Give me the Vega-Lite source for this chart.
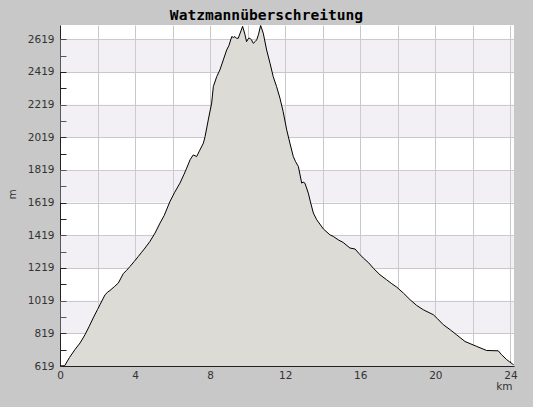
{
  "$schema": "https://vega.github.io/schema/vega-lite/v6.json",
  "width": 454,
  "height": 341,
  "autosize": {"type": "none"},
  "padding": {"left": 60, "top": 25, "right": 19, "bottom": 41},
  "background": "#c8c8c8",
  "view": {"fill": "white", "stroke": null},
  "config": {"axis": {"labelOverlap": false, "labelFlush": false}},
  "title": {
    "text": "Watzmannüberschreitung",
    "font": "DejaVu Sans Mono",
    "fontSize": 14.6,
    "fontWeight": "bold",
    "color": "#000000",
    "anchor": "middle",
    "dx": -20.5,
    "dy": 14,
    "baseline": "alphabetic",
    "offset": 4
  },
  "datasets": {
    "bands": [
      {"lo": 819, "hi": 1019},
      {"lo": 1219, "hi": 1419},
      {"lo": 1619, "hi": 1819},
      {"lo": 2019, "hi": 2219},
      {"lo": 2419, "hi": 2619}
    ],
    "profile": [
      {"km": 0, "elev": 619}, {"km": 0.25, "elev": 621}, {"km": 0.5, "elev": 670}, {"km": 0.8, "elev": 720},
      {"km": 1.07, "elev": 760}, {"km": 1.33, "elev": 810}, {"km": 1.55, "elev": 860}, {"km": 1.77, "elev": 913},
      {"km": 2.0, "elev": 965}, {"km": 2.13, "elev": 994}, {"km": 2.4, "elev": 1055}, {"km": 2.55, "elev": 1072},
      {"km": 2.66, "elev": 1081}, {"km": 2.9, "elev": 1105}, {"km": 3.11, "elev": 1127}, {"km": 3.37, "elev": 1184},
      {"km": 3.55, "elev": 1205}, {"km": 3.73, "elev": 1228}, {"km": 3.95, "elev": 1258}, {"km": 4.17, "elev": 1289},
      {"km": 4.35, "elev": 1315}, {"km": 4.53, "elev": 1341}, {"km": 4.79, "elev": 1381}, {"km": 5.06, "elev": 1432},
      {"km": 5.33, "elev": 1494}, {"km": 5.55, "elev": 1540}, {"km": 5.86, "elev": 1626}, {"km": 6.1, "elev": 1680},
      {"km": 6.39, "elev": 1738}, {"km": 6.6, "elev": 1790}, {"km": 6.75, "elev": 1830}, {"km": 6.93, "elev": 1881},
      {"km": 7.1, "elev": 1911}, {"km": 7.28, "elev": 1901}, {"km": 7.45, "elev": 1940}, {"km": 7.64, "elev": 1983},
      {"km": 7.73, "elev": 2023}, {"km": 7.9, "elev": 2125}, {"km": 8.08, "elev": 2228}, {"km": 8.17, "elev": 2329},
      {"km": 8.35, "elev": 2390}, {"km": 8.52, "elev": 2431}, {"km": 8.7, "elev": 2492}, {"km": 8.88, "elev": 2553},
      {"km": 9.0, "elev": 2580}, {"km": 9.15, "elev": 2635}, {"km": 9.25, "elev": 2630}, {"km": 9.32, "elev": 2635},
      {"km": 9.4, "elev": 2625}, {"km": 9.5, "elev": 2625}, {"km": 9.73, "elev": 2698}, {"km": 9.85, "elev": 2650},
      {"km": 9.94, "elev": 2604}, {"km": 10.05, "elev": 2625}, {"km": 10.12, "elev": 2625}, {"km": 10.2, "elev": 2615},
      {"km": 10.3, "elev": 2594}, {"km": 10.4, "elev": 2605}, {"km": 10.48, "elev": 2615}, {"km": 10.58, "elev": 2650},
      {"km": 10.69, "elev": 2703}, {"km": 10.83, "elev": 2656}, {"km": 11.01, "elev": 2553}, {"km": 11.19, "elev": 2472},
      {"km": 11.36, "elev": 2390}, {"km": 11.54, "elev": 2329}, {"km": 11.72, "elev": 2258}, {"km": 11.89, "elev": 2176},
      {"km": 12.08, "elev": 2064}, {"km": 12.25, "elev": 1983}, {"km": 12.43, "elev": 1901}, {"km": 12.55, "elev": 1870},
      {"km": 12.7, "elev": 1840}, {"km": 12.88, "elev": 1738}, {"km": 12.95, "elev": 1745}, {"km": 13.05, "elev": 1738},
      {"km": 13.23, "elev": 1677}, {"km": 13.36, "elev": 1616}, {"km": 13.5, "elev": 1555}, {"km": 13.68, "elev": 1514},
      {"km": 14.03, "elev": 1458}, {"km": 14.38, "elev": 1422}, {"km": 14.56, "elev": 1412}, {"km": 14.83, "elev": 1391},
      {"km": 15.09, "elev": 1375}, {"km": 15.45, "elev": 1341}, {"km": 15.72, "elev": 1335}, {"km": 15.95, "elev": 1305},
      {"km": 16.16, "elev": 1280}, {"km": 16.45, "elev": 1250}, {"km": 16.69, "elev": 1218}, {"km": 17.05, "elev": 1177},
      {"km": 17.4, "elev": 1147}, {"km": 17.65, "elev": 1125}, {"km": 17.94, "elev": 1102}, {"km": 18.3, "elev": 1065},
      {"km": 18.65, "elev": 1025}, {"km": 19.0, "elev": 990}, {"km": 19.36, "elev": 963}, {"km": 19.89, "elev": 933},
      {"km": 20.1, "elev": 910}, {"km": 20.42, "elev": 872}, {"km": 20.8, "elev": 840}, {"km": 21.13, "elev": 810},
      {"km": 21.58, "elev": 769}, {"km": 22.2, "elev": 739}, {"km": 22.73, "elev": 714}, {"km": 23.35, "elev": 712},
      {"km": 23.53, "elev": 688}, {"km": 23.8, "elev": 658}, {"km": 23.95, "elev": 645}, {"km": 24.1, "elev": 632},
      {"km": 24.17, "elev": 627}
    ]
  },
  "layer": [
    {
      "data": {"name": "bands"},
      "mark": {"type": "rect", "fill": "#d8d0e0", "fillOpacity": 0.31, "clip": true},
      "encoding": {
        "x": {"value": 0},
        "x2": {"value": "width"},
        "y": {
          "field": "lo",
          "type": "quantitative",
          "scale": {"domain": [619, 2706], "nice": false, "zero": false},
          "axis": {
            "values": [619,719,819,919,1019,1119,1219,1319,1419,1519,1619,1719,1819,1919,2019,2119,2219,2319,2419,2519,2619],
            "labelExpr": "(datum.value - 619) % 200 === 0 ? datum.value : ''",
            "labelFont": "DejaVu Sans",
            "labelFontSize": 10.5,
            "labelColor": "#333333",
            "labelPadding": 12,
            "labelOverlap": false,
            "labelFlush": false,
            "tickSize": -6,
            "tickColor": "#222222",
            "domainColor": "#222222",
            "grid": true,
            "gridColor": "#c8c8c8",
            "gridOpacity": {"condition": {"test": "(datum.value - 619) % 200 === 0", "value": 1}, "value": 0},
            "title": "m",
            "titleFont": "DejaVu Sans",
            "titleFontSize": 10.5,
            "titleFontWeight": "normal",
            "titleColor": "#333333",
            "titleAngle": -90,
            "titleAlign": "center",
            "titleBaseline": "middle",
            "titleX": -48,
            "titleY": 169
          }
        },
        "y2": {"field": "hi"}
      }
    },
    {
      "data": {"name": "profile"},
      "mark": {"type": "area", "color": "#dcdbd5", "opacity": 1, "fillOpacity": 1, "clip": true, "line": {"color": "#000000", "strokeWidth": 1}},
      "encoding": {
        "x": {
          "field": "km",
          "type": "quantitative",
          "scale": {"domain": [0, 24.19], "nice": false, "zero": false},
          "axis": {
            "values": [0,1,2,3,4,5,6,7,8,9,10,11,12,13,14,15,16,17,18,19,20,21,22,23,24],
            "labelExpr": "datum.value % 4 === 0 ? datum.value : ''",
            "labelFont": "DejaVu Sans",
            "labelFontSize": 10.5,
            "labelColor": "#333333",
            "labelPadding": 9,
            "labelOverlap": false,
            "labelFlush": false,
            "tickSize": -5,
            "tickColor": "#222222",
            "domainColor": "#222222",
            "grid": true,
            "gridColor": "#c8c8c8",
            "gridOpacity": {"condition": {"test": "datum.value % 2 === 0", "value": 1}, "value": 0},
            "title": "km",
            "titleFont": "DejaVu Sans",
            "titleFontSize": 10.5,
            "titleFontWeight": "normal",
            "titleColor": "#333333",
            "titleAlign": "right",
            "titleBaseline": "alphabetic",
            "titleX": 452,
            "titleY": 23.5
          }
        },
        "y": {
          "field": "elev",
          "type": "quantitative",
          "axis": {
            "values": [619,719,819,919,1019,1119,1219,1319,1419,1519,1619,1719,1819,1919,2019,2119,2219,2319,2419,2519,2619],
            "labelExpr": "(datum.value - 619) % 200 === 0 ? datum.value : ''",
            "labelFont": "DejaVu Sans",
            "labelFontSize": 10.5,
            "labelColor": "#333333",
            "labelPadding": 12,
            "labelOverlap": false,
            "labelFlush": false,
            "tickSize": -6,
            "tickColor": "#222222",
            "domainColor": "#222222",
            "grid": true,
            "gridColor": "#c8c8c8",
            "gridOpacity": {"condition": {"test": "(datum.value - 619) % 200 === 0", "value": 1}, "value": 0},
            "title": "m",
            "titleFont": "DejaVu Sans",
            "titleFontSize": 10.5,
            "titleFontWeight": "normal",
            "titleColor": "#333333",
            "titleAngle": -90,
            "titleAlign": "center",
            "titleBaseline": "middle",
            "titleX": -48,
            "titleY": 169
          }
        }
      }
    }
  ]
}
